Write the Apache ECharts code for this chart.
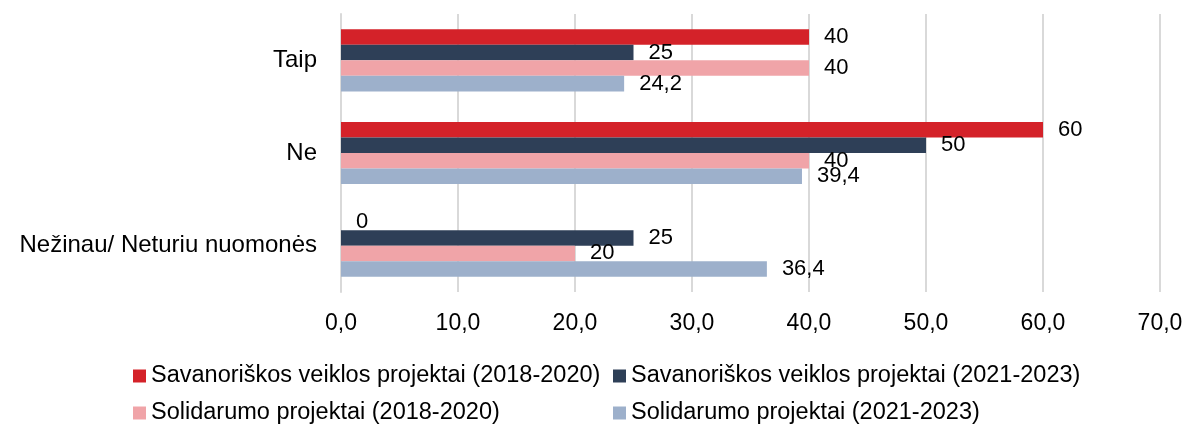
<!DOCTYPE html>
<html lang="lt">
<head>
	<meta charset="UTF-8">
	<title></title>
	<style>
		html, body { margin: 0; padding: 0; background: #fff; }
	</style>
</head>
<body>
	<div id="main" style="width: 1186px;height: 429px"></div>
	<script src="https://cdn.jsdelivr.net/npm/echarts@6/dist/echarts.min.js"></script>
	<script>
		var categories = ['Taip', 'Ne', 'Nežinau/ Neturiu nuomonės'];
		var seriesNames = [
			'Savanoriškos veiklos projektai (2018-2020)',
			'Savanoriškos veiklos projektai (2021-2023)',
			'Solidarumo projektai (2018-2020)',
			'Solidarumo projektai (2021-2023)'
		];
		var volunteer2018 = [40, 60, 0];
		var volunteer2021 = [25, 50, 25];
		var solidarity2018 = [40, 40, 20];
		var solidarity2021 = [24.2, 39.4, 36.4];
		var colors = ['#D42229', '#2E3F57', '#F0A4A8', '#9DB0CB'];

		var font = 'Liberation Sans';
		var allData = [volunteer2018, volunteer2021, solidarity2018, solidarity2021];

		var myChart = echarts.init(document.getElementById('main'));

		var series = allData.map(function (d, i) {
			return {
				name: seriesNames[i],
				type: 'bar',
				data: d,
				barGap: '0%',
				barCategoryGap: '33%',
				itemStyle: { color: colors[i] },
				label: {
					show: true,
					position: 'right',
					distance: 15,
					color: '#000',
					fontFamily: font,
					fontSize: 22,
					formatter: function (p) {
						return String(p.value).replace('.', ',');
					}
				}
			};
		});

		// legend: two items per row, fixed columns
		var legendPos = [[128, 359], [608, 359], [128, 396], [608, 396]];
		var legends = seriesNames.map(function (n, i) {
			return {
				data: [n],
				left: legendPos[i][0],
				top: legendPos[i][1],
				itemWidth: 13,
				itemHeight: 13,
				icon: 'rect',
				textStyle: { fontFamily: font, fontSize: 23.5, color: '#000' }
			};
		});

		myChart.setOption({
			animation: false,
			grid: { left: 341, right: 26, top: 14, bottom: 137 },
			legend: legends,
			xAxis: {
				type: 'value',
				min: 0,
				max: 70,
				interval: 10,
				axisLine: { show: false },
				axisTick: { show: false },
				splitLine: { lineStyle: { color: '#D9D9D9', width: 2 } },
				axisLabel: {
					color: '#000',
					fontFamily: font,
					fontSize: 23,
					margin: 20,
					formatter: function (v) {
						return v.toFixed(1).replace('.', ',');
					}
				}
			},
			yAxis: {
				type: 'category',
				data: categories,
				inverse: true,
				axisLine: { lineStyle: { color: '#D9D9D9', width: 2 } },
				axisTick: { show: false },
				axisLabel: {
					color: '#000',
					fontFamily: font,
					fontSize: 24,
					margin: 24
				}
			},
			series: series
		});
	</script>
</body>
</html>
